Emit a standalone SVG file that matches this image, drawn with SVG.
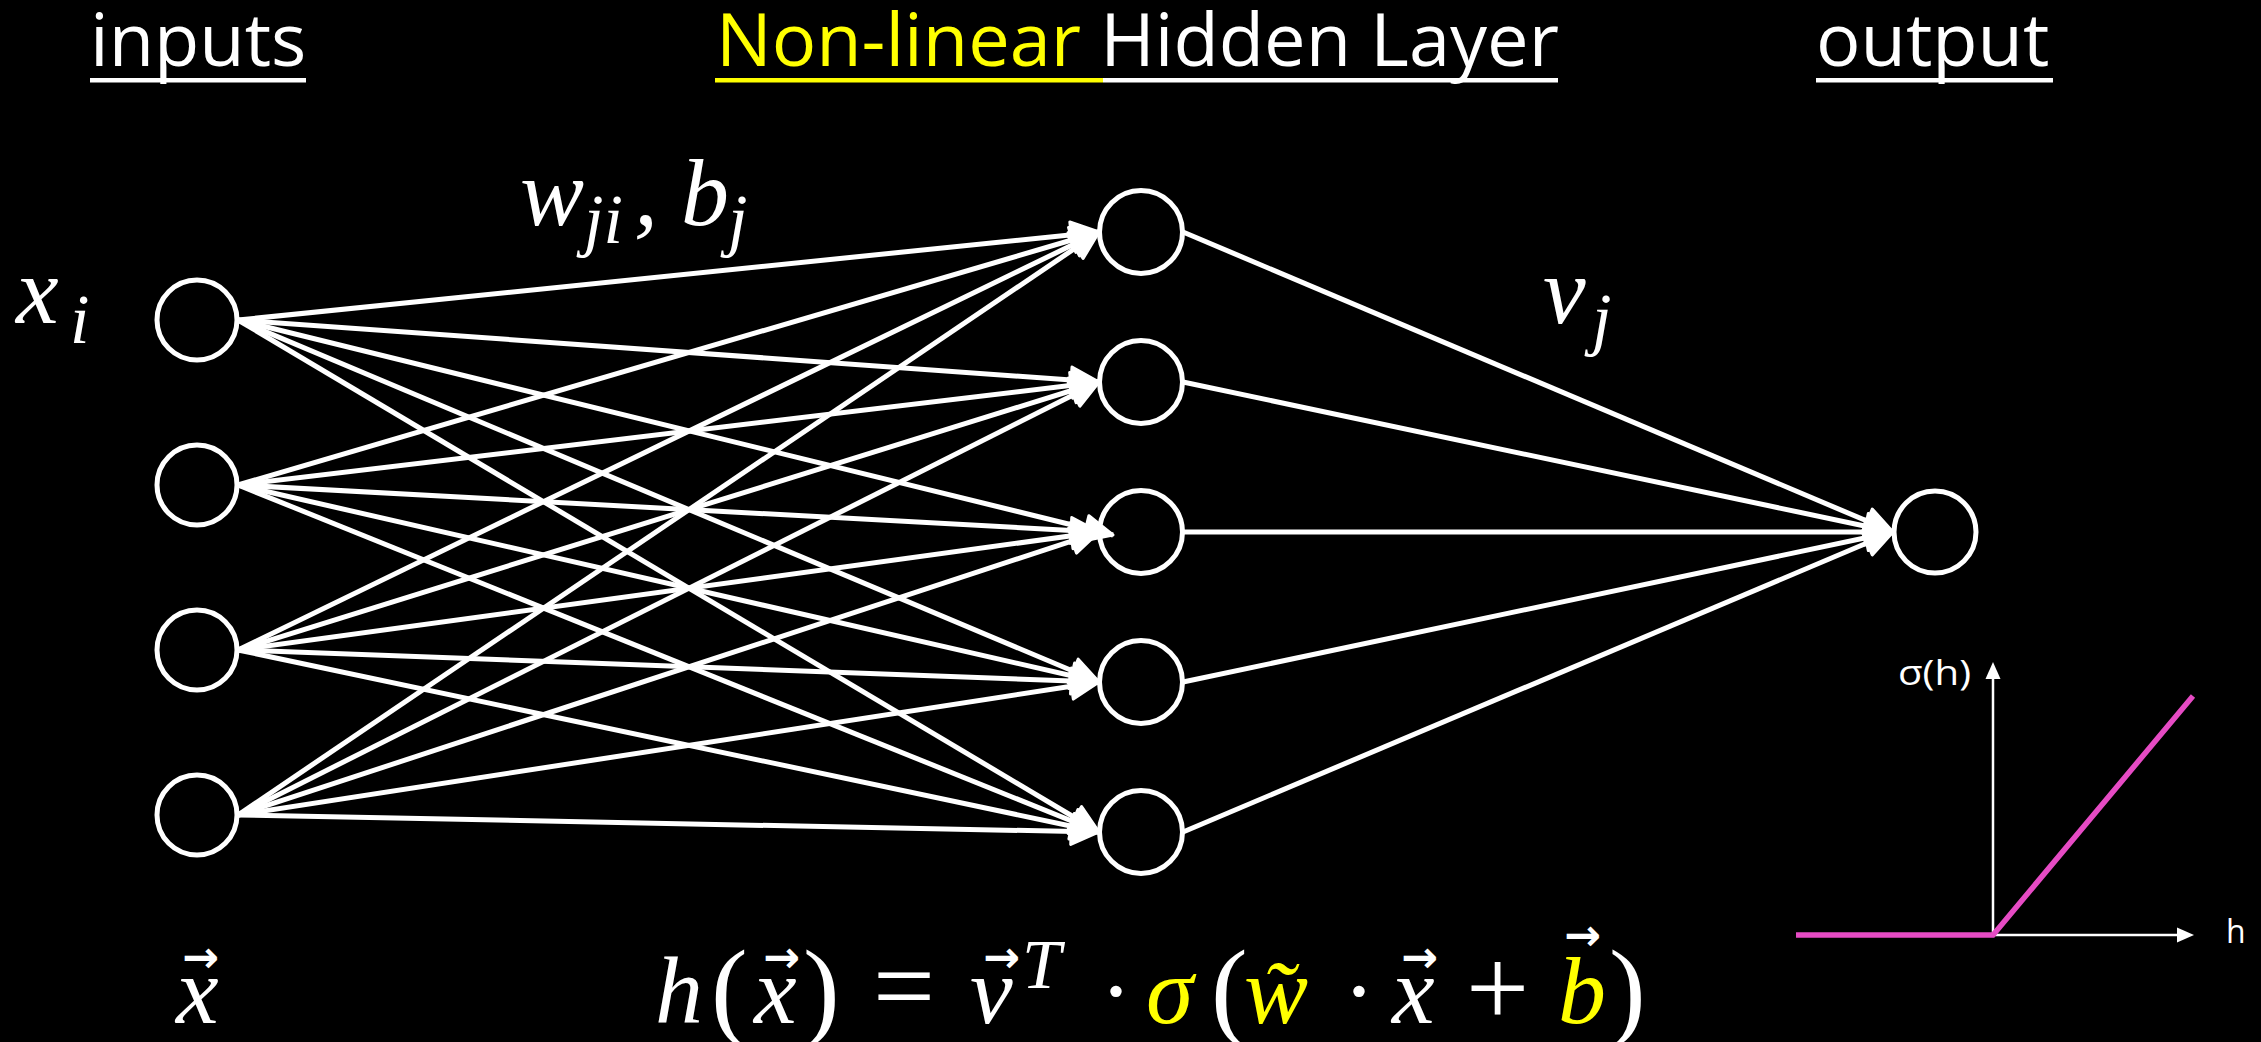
<svg xmlns="http://www.w3.org/2000/svg" width="2261" height="1042" viewBox="0 0 2261 1042">
<style>
.t{font-family:"Open Sans","Liberation Sans",sans-serif;fill:#fff;font-size:74px}
.m{font-family:"Liberation Serif","DejaVu Serif",serif;font-style:italic;fill:#fff;font-size:96px}
.s{font-size:70px}
.n{font-style:normal}
.y{fill:#FFFF00}
.va{font-family:"DejaVu Sans",sans-serif;font-style:italic;font-weight:bold;font-size:44px;fill:#fff}
.node{fill:none;stroke:#fff;stroke-width:5}
.c line{stroke:#fff;stroke-width:5}
.ax{stroke:#fff;stroke-width:2.5}
</style>
<defs>
<marker id="arr" markerUnits="userSpaceOnUse" markerWidth="40" markerHeight="40" viewBox="-3 -3 40 40" refX="31" refY="16" orient="auto">
<path d="M3,3 L31,16 L3,29 z" fill="#fff" stroke="#fff" stroke-width="3" stroke-linejoin="round"/>
</marker>
</defs>
<rect width="2261" height="1042" fill="#000"/>

<g id="titles">
<text class="t" x="90" y="66">inputs</text>
<rect x="90" y="78" width="216" height="4.5" fill="#fff"/>
<text class="t" x="716" y="66"><tspan class="y">Non-linear </tspan>Hidden Layer</text>
<rect x="715" y="78" width="388" height="4.5" fill="#FFFF00"/>
<rect x="1103" y="78" width="455" height="4.5" fill="#fff"/>
<text class="t" x="1816" y="66">output</text>
<rect x="1816" y="78" width="237" height="4.5" fill="#fff"/>
</g>

<g id="labels">
<text class="m" x="16" y="323">x</text>
<text class="m s" x="70" y="343">i</text>
<text class="m" x="520" y="225">w</text>
<text class="m s" x="584" y="243" font-size="74">ji</text>
<text class="m" x="634" y="225">,</text>
<text class="m" x="681" y="225">b</text>
<text class="m s" x="728" y="243">j</text>
<text class="m" x="1543" y="323">v</text>
<text class="m s" x="1592" y="342">j</text>
</g>

<g id="connectors" class="c">
<line x1="238" y1="320" x2="1099" y2="232" marker-end="url(#arr)"/>
<line x1="238" y1="320" x2="1099" y2="382" marker-end="url(#arr)"/>
<line x1="238" y1="320" x2="1113" y2="535" marker-end="url(#arr)"/>
<line x1="238" y1="320" x2="1099" y2="682" marker-end="url(#arr)"/>
<line x1="238" y1="320" x2="1099" y2="832" marker-end="url(#arr)"/>
<line x1="238" y1="485" x2="1099" y2="232" marker-end="url(#arr)"/>
<line x1="238" y1="485" x2="1099" y2="382" marker-end="url(#arr)"/>
<line x1="238" y1="485" x2="1099" y2="532" marker-end="url(#arr)"/>
<line x1="238" y1="485" x2="1099" y2="682" marker-end="url(#arr)"/>
<line x1="238" y1="485" x2="1099" y2="832" marker-end="url(#arr)"/>
<line x1="238" y1="650" x2="1099" y2="232" marker-end="url(#arr)"/>
<line x1="238" y1="650" x2="1099" y2="382" marker-end="url(#arr)"/>
<line x1="238" y1="650" x2="1099" y2="532" marker-end="url(#arr)"/>
<line x1="238" y1="650" x2="1099" y2="682" marker-end="url(#arr)"/>
<line x1="238" y1="650" x2="1099" y2="832" marker-end="url(#arr)"/>
<line x1="238" y1="815" x2="1099" y2="232" marker-end="url(#arr)"/>
<line x1="238" y1="815" x2="1099" y2="382" marker-end="url(#arr)"/>
<line x1="238" y1="815" x2="1099" y2="532" marker-end="url(#arr)"/>
<line x1="238" y1="815" x2="1099" y2="682" marker-end="url(#arr)"/>
<line x1="238" y1="815" x2="1099" y2="832" marker-end="url(#arr)"/>
<line x1="1183" y1="232" x2="1893" y2="532" marker-end="url(#arr)"/>
<line x1="1183" y1="382" x2="1893" y2="532" marker-end="url(#arr)"/>
<line x1="1183" y1="532" x2="1893" y2="532" marker-end="url(#arr)"/>
<line x1="1183" y1="682" x2="1893" y2="532" marker-end="url(#arr)"/>
<line x1="1183" y1="832" x2="1893" y2="532" marker-end="url(#arr)"/>
</g>

<g id="in1"><circle class="node" cx="197" cy="320" r="40"/></g>
<g id="in2"><circle class="node" cx="197" cy="485" r="40"/></g>
<g id="in3"><circle class="node" cx="197" cy="650" r="40"/></g>
<g id="in4"><circle class="node" cx="197" cy="815" r="40"/></g>
<g id="h1"><circle class="node" cx="1141" cy="232" r="41.5"/></g>
<g id="h2"><circle class="node" cx="1141" cy="382" r="41.5"/></g>
<g id="h3"><circle class="node" cx="1141" cy="532" r="41.5"/></g>
<g id="h4"><circle class="node" cx="1141" cy="682" r="41.5"/></g>
<g id="h5"><circle class="node" cx="1141" cy="832" r="41.5"/></g>
<g id="out"><circle class="node" cx="1935" cy="532" r="41"/></g>

<g id="activation-plot">
<line class="ax" x1="1993" y1="936" x2="1993" y2="676"/>
<polygon points="1993,662 2000.5,679 1985.5,679" fill="#fff"/>
<line class="ax" x1="1992" y1="935" x2="2180" y2="935"/>
<polygon points="2194,935 2177,927.5 2177,942.5" fill="#fff"/>
<polyline points="1796,935 1993,935 2193,696" fill="none" stroke="#E64BC4" stroke-width="5.5"/>
<text x="1898" y="685" font-family="Open Sans, sans-serif" font-size="34" fill="#fff" textLength="73" lengthAdjust="spacingAndGlyphs">σ(h)</text>
<text x="2226" y="943" font-family="Open Sans, sans-serif" font-size="32" fill="#fff">h</text>
</g>

<g id="formula">
<text class="m" x="176" y="1023">x</text>
<text class="va" x="182" y="972">→</text>
<text class="m" y="1023"><tspan x="655">h</tspan><tspan x="711" y="1026" class="n" font-size="110">(</tspan><tspan x="754" y="1023">x</tspan><tspan x="803" y="1026" class="n" font-size="110">)</tspan><tspan x="873" y="1023" class="n" font-size="110">=</tspan><tspan x="970" y="1023">v</tspan><tspan x="1022" y="988" font-size="70">T</tspan><tspan x="1100" y="1023" class="n">·</tspan><tspan x="1146" class="y">σ</tspan><tspan x="1211" y="1026" class="n" font-size="110">(</tspan><tspan x="1244" y="1023" class="y">w&#x0303;</tspan><tspan x="1343" class="n">·</tspan><tspan x="1392">x</tspan><tspan x="1466" y="1026" class="n" font-size="112">+</tspan><tspan x="1558" y="1023" class="y">b</tspan><tspan x="1609" y="1026" class="n" font-size="110">)</tspan></text>
<text class="va" x="763" y="972">→</text>
<text class="va" x="983" y="972">→</text>
<text class="va" x="1401" y="972">→</text>
<text class="va" x="1564" y="950">→</text>
</g>
</svg>
